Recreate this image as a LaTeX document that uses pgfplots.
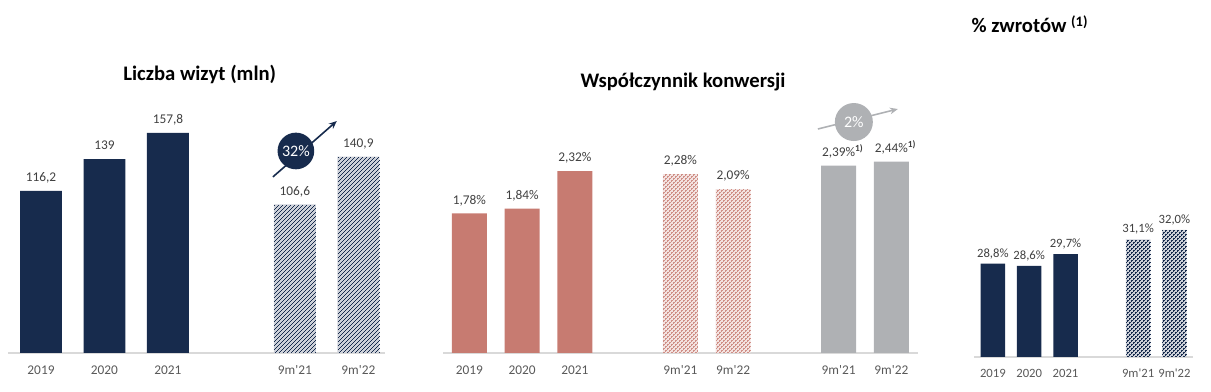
\documentclass[border=0pt]{standalone}
\usepackage{fontspec}
\setmainfont{Carlito}
\usepackage{pgfplots}
\pgfplotsset{compat=1.18}
\usetikzlibrary{patterns.meta, arrows.meta}
\definecolor{navy}{HTML}{172B4D}
\definecolor{salmon}{HTML}{C77B71}
\definecolor{grbar}{HTML}{AFB1B4}
\definecolor{lbl}{HTML}{404040}
\definecolor{tickc}{HTML}{595959}
\definecolor{baseln}{HTML}{D9D9D9}

\tikzdeclarepattern{
  name=hatch,
  type=uncolored,
  bounding box={(-0.75pt,-0.75pt) and (3.75pt,3.75pt)},
  tile size={(3pt,3pt)},
  code={
    \tikzset{line width=1.3pt}
    \draw (-0.75pt,-0.75pt) -- (3.75pt,3.75pt);
    \draw (-0.75pt,2.25pt) -- (0.75pt,3.75pt);
    \draw (2.25pt,-0.75pt) -- (3.75pt,0.75pt);
  }
}

\pgfplotsset{
  panel/.style={
    scale only axis, clip=false, anchor=south west,
    axis y line=none, axis x line=bottom,
    x axis line style={draw=baseln, line width=1.1pt, -},
    major tick length=0pt, xtick style={draw=none},
    ytick=\empty,
    xticklabel style={font=\fontsize{10}{12}\selectfont, text=tickc, anchor=base, inner sep=0pt, yshift=-16.5pt},
    every node near coord/.append style={font=\fontsize{10}{12}\selectfont, text=lbl, anchor=base, inner sep=0pt, yshift=7pt},
  },
  bars/.style={ybar, bar shift=0pt, draw=none},
}

\begin{document}
\begin{tikzpicture}
\path[use as bounding box] (0,0) rectangle (908.25pt,294pt);

% titles
\node[anchor=base, font=\fontsize{15.5}{18}\selectfont\bfseries] at (149.8pt,233.25pt) {Liczba wizyt (mln)};
\node[anchor=base, font=\fontsize{15.5}{18}\selectfont\bfseries] at (512.25pt,228pt) {Współczynnik konwersji};
\node[anchor=base west, font=\fontsize{15.5}{18}\selectfont\bfseries] at (725.25pt,269.25pt) {\% zwrotów \textsuperscript{(1)}};

% Panel 1
\begin{axis}[panel, at={(6pt,29.25pt)},
  width=282.75pt, height=167.3pt,
  xmin=-0.52, xmax=5.42, ymin=0, ymax=160,
  xtick={0,1,2,4,5},
  xticklabels={2019,2020,2021,9m\textquotesingle21,9m\textquotesingle22},
  nodes near coords={\pgfmathprintnumber[fixed, precision=1, use comma, 1000 sep={}, assume math mode=true]{\pgfplotspointmeta}},
]
\addplot[bars, bar width=0.66, fill=navy] coordinates {(0,116.2) (1,139) (2,157.8)};
\addplot[bars, bar width=0.66, preaction={fill=navy!22}, pattern=hatch, pattern color=navy] coordinates {(4,106.6) (5,140.9)};
\draw[navy, line width=1.2pt, -{Stealth[length=6pt,width=5pt]}] (axis cs:3.654,126.3) -- (axis cs:4.661,166.4);
\node[circle, fill=navy, minimum size=27.5pt, inner sep=0pt, text=white, font=\fontsize{12}{14}\selectfont] at (axis cs:4.016,144.9) {32\%};
\end{axis}

% Panel 2
\begin{axis}[panel, at={(332.25pt,29.25pt)},
  width=356.06pt, height=147pt,
  xmin=-0.5, xmax=8.5, ymin=0, ymax=2.5,
  xtick={0,1,2,4,5,7,8},
  xticklabels={2019,2020,2021,9m\textquotesingle21,9m\textquotesingle22,9m\textquotesingle21,9m\textquotesingle22},
  nodes near coords={\pgfmathprintnumber[fixed, fixed zerofill, precision=2, use comma, assume math mode=true]{\pgfplotspointmeta}\%},
]
\addplot[bars, bar width=0.664, fill=salmon] coordinates {(0,1.78) (1,1.84) (2,2.32)};
\addplot[bars, bar width=0.664, preaction={fill=salmon!22}, pattern=hatch, pattern color=salmon!85] coordinates {(4,2.28) (5,2.09)};
\addplot[bars, bar width=0.664, fill=grbar,
  nodes near coords={\pgfmathprintnumber[fixed, fixed zerofill, precision=2, use comma, assume math mode=true]{\pgfplotspointmeta}\%\rlap{\textsuperscript{\bfseries 1)}}}]
  coordinates {(7,2.39) (8,2.44)};
\draw[grbar, line width=1.2pt, -{Stealth[length=6pt,width=5pt]}] (axis cs:6.607,2.857) -- (axis cs:8.123,3.112);
\node[circle, fill=grbar, minimum size=28.5pt, inner sep=0pt, text=white, font=\fontsize{12}{14}\selectfont] at (axis cs:7.289,2.946) {2\%};
\end{axis}

% Panel 3
\begin{axis}[panel, at={(730.5pt,26.25pt)},
  width=164.2pt, height=103.35pt,
  xmin=-0.52, xmax=5.51, ymin=20, ymax=33,
  xtick={0,1,2,4,5},
  xticklabels={2019,2020,2021,9m\textquotesingle21,9m\textquotesingle22},
  xticklabel style={font=\fontsize{9.5}{11}\selectfont, yshift=0.75pt},
  every node near coord/.append style={font=\fontsize{9.5}{11}\selectfont, yshift=-2pt},
  nodes near coords={\pgfmathprintnumber[fixed, fixed zerofill, precision=1, use comma, assume math mode=true]{\pgfplotspointmeta}\%},
]
\addplot[bars, bar width=0.675, fill=navy] coordinates {(0,28.8) (1,28.6) (2,29.7)};
\addplot[bars, bar width=0.675, preaction={fill=navy!22}, pattern=hatch, pattern color=navy] coordinates {(4,31.1) (5,32.0)};
\end{axis}
\end{tikzpicture}
\end{document}
